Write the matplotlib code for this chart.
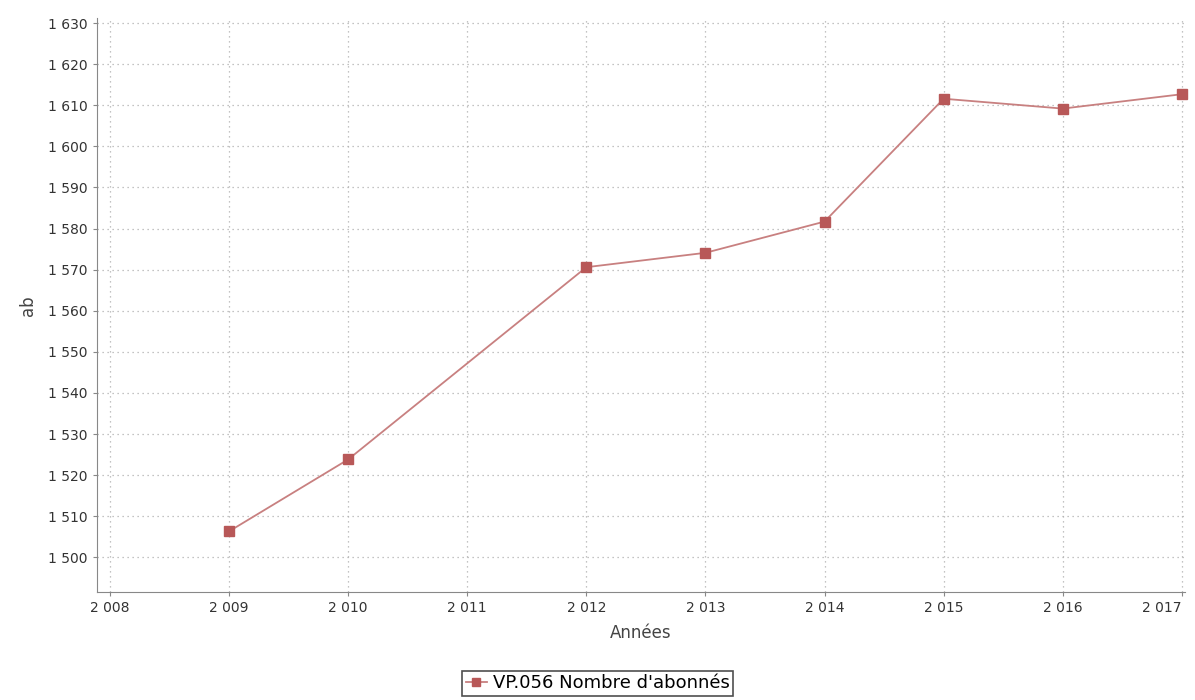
import matplotlib.pyplot as plt
from matplotlib.ticker import FuncFormatter, MultipleLocator

annees = [2009, 2010, 2012, 2013, 2014, 2015, 2016, 2017]
abonnes = [1506.3, 1523.8, 1570.6, 1574.1, 1581.7, 1611.6, 1609.2, 1612.7]
serie = "VP.056 Nombre d'abonnés"
ticks_x = list(range(2008, 2018))


def espace(v, pos=None):
    s = "%d" % round(v)
    if len(s) > 3:
        s = s[:-3] + " " + s[-3:]
    return s


fig = plt.figure(figsize=(11.95, 7), dpi=100)
ax = fig.add_axes([0.081, 0.154, 0.911, 0.82])

ax.plot(annees, abonnes, color='#c88080', lw=1.3, marker='s', markersize=7.5,
        markerfacecolor='#b85858', markeredgecolor='#b85858', label=serie,
        clip_on=False)

ax.set_xlim(2007.89, 2017.03)
ax.set_ylim(1491.5, 1631.2)
ax.set_xticks(ticks_x, [espace(t) for t in ticks_x])
ax.yaxis.set_major_locator(MultipleLocator(10))
ax.yaxis.set_major_formatter(FuncFormatter(espace))

ax.grid(True, color='#b0b0b0', linestyle=(0, (1, 3)), linewidth=0.9)
for s in ['top', 'right']:
    ax.spines[s].set_visible(False)
for s in ['left', 'bottom']:
    ax.spines[s].set_color('#888888')
ax.tick_params(colors='#888888', labelcolor='#333333', labelsize=10, length=3)

ax.get_xticklabels()[-1].set_horizontalalignment('right')

ax.set_xlabel('Années', fontsize=12, color='#444444', labelpad=6)
ax.set_ylabel('ab', fontsize=12, color='#444444', labelpad=8)

leg = fig.legend(loc='center', bbox_to_anchor=(0.5, 0.024), fontsize=13,
                 frameon=True, fancybox=False, handlelength=1.2,
                 handletextpad=0.3, borderpad=0.2, markerscale=0.8)
leg.get_frame().set_edgecolor('#222222')
leg.get_frame().set_linewidth(1.2)

fig.savefig('out.png', dpi=100)
